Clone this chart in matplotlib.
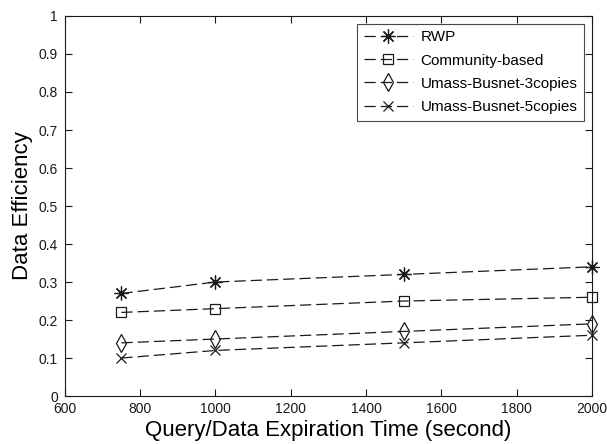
import numpy as np
import matplotlib
matplotlib.use('Agg')
import matplotlib.pyplot as plt

plt.rcParams['font.family'] = ['Liberation Sans', 'DejaVu Sans']

expiration = [750, 1000, 1500, 2000]
rwp = [0.27, 0.30, 0.32, 0.34]
community = [0.22, 0.23, 0.25, 0.26]
busnet3 = [0.14, 0.15, 0.17, 0.19]
busnet5 = [0.10, 0.12, 0.14, 0.16]
labels = ['RWP', 'Community-based', 'Umass-Busnet-3copies', 'Umass-Busnet-5copies']
xticks = [600, 800, 1000, 1200, 1400, 1600, 1800, 2000]
yticks = np.arange(0, 1.01, 0.1)
ytick_labels = ['0', '0.1', '0.2', '0.3', '0.4', '0.5', '0.6', '0.7', '0.8', '0.9', '1']

fig = plt.figure(figsize=(6.07, 4.44), dpi=100)
ax = fig.add_axes([0.107, 0.108, 0.868, 0.856])

style = dict(color='#1a1a1a', linestyle=(0, (9, 4)), linewidth=0.9,
             markerfacecolor='none', markeredgecolor='#1a1a1a',
             markeredgewidth=0.9, clip_on=False)
ax.plot(expiration, rwp, marker=(8, 2, 0), markersize=10, label=labels[0], **style)
ax.plot(expiration, community, marker='s', markersize=7, label=labels[1], **style)
ax.plot(expiration, busnet3, marker='d', markersize=9, label=labels[2], **style)
ax.plot(expiration, busnet5, marker='x', markersize=7, label=labels[3], **style)

ax.set_xlim(600, 2000)
ax.set_ylim(0, 1)
ax.set_xticks(xticks)
ax.set_yticks(yticks)
ax.set_yticklabels(ytick_labels)
ax.tick_params(direction='in', top=True, right=True, labelsize=10, length=5,
               colors='#1a1a1a')
ax.tick_params(axis='x', pad=4.5)
ax.tick_params(axis='y', pad=5)
for s in ax.spines.values():
    s.set_linewidth(0.8)
    s.set_color('#1a1a1a')

ax.set_xlabel('Query/Data Expiration Time (second)', fontsize=16, labelpad=3)
ax.set_ylabel('Data Efficiency', fontsize=16, labelpad=4)

leg = ax.legend(loc='upper right', fontsize=11, frameon=True, fancybox=False,
                edgecolor='#1a1a1a', handlelength=3.2, borderpad=0.45,
                labelspacing=0.6, handletextpad=0.5, borderaxespad=0.5,
                bbox_to_anchor=(1.0, 1.0))
leg.get_frame().set_linewidth(0.8)

plt.savefig('out.png', dpi=100)
